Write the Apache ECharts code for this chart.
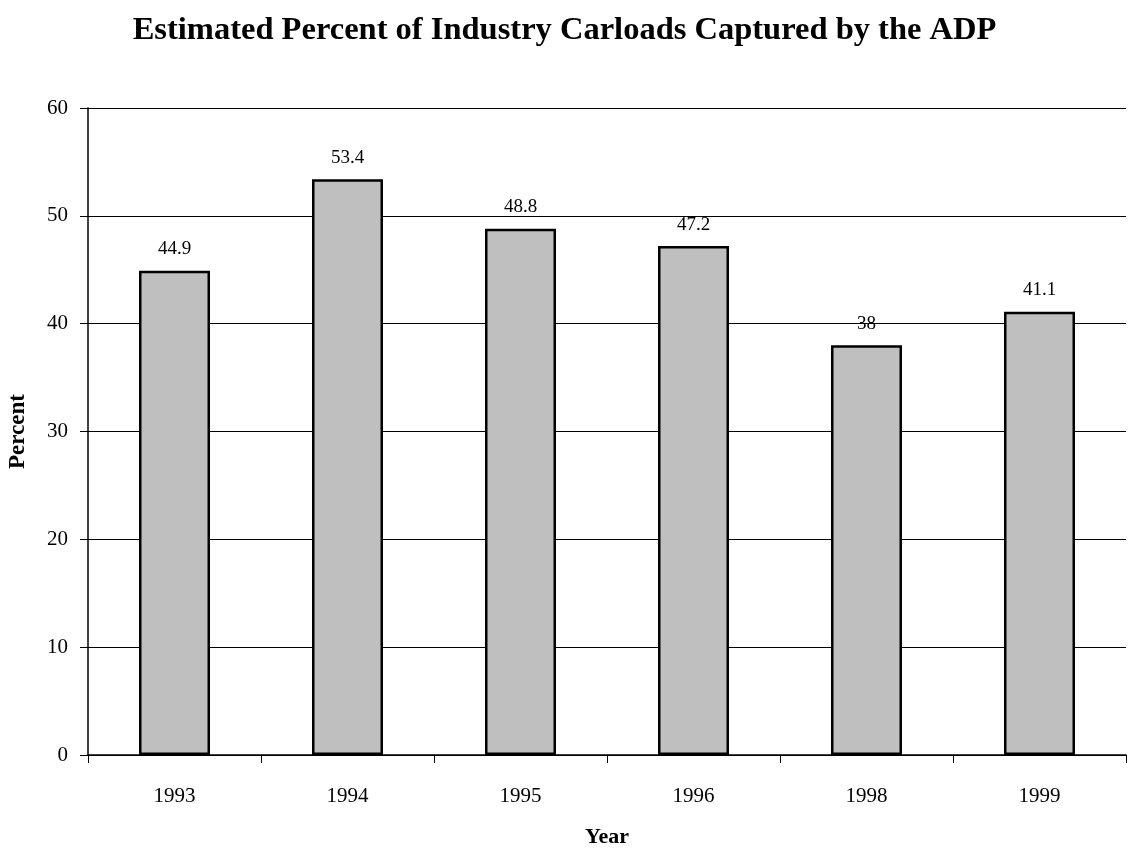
<!DOCTYPE html>
<html>
<head>
<meta charset="utf-8">
<script src="https://cdn.jsdelivr.net/npm/echarts@6/dist/echarts.min.js"></script>
<style>
  html, body { margin: 0; padding: 0; background: #fff; }
  #chart { width: 1129px; height: 849px; }
</style>
</head>
<body>
<div id="chart"></div>
<script>
const years = ['1993', '1994', '1995', '1996', '1998', '1999']
const percent = [44.9, 53.4, 48.8, 47.2, 38, 41.1]

const font = '"Liberation Serif", "Times New Roman", serif'
const chart = echarts.init(document.getElementById('chart'))

chart.setOption({
  backgroundColor: '#fff',
  animation: false,
  title: {
    text: 'Estimated Percent of Industry Carloads Captured by the ADP',
    left: 'center',
    top: 9,
    textStyle: { fontFamily: font, fontSize: 32.5, fontWeight: 'bold', color: '#000' },
  },
  grid: { left: 88, right: 3, top: 108, bottom: 94, outerBoundsMode: 'none' },
  xAxis: {
    type: 'category',
    data: years,
    name: 'Year',
    nameLocation: 'middle',
    nameGap: 71,
    nameTextStyle: { fontFamily: font, fontSize: 22, fontWeight: 'bold', color: '#000' },
    axisLine: { lineStyle: { color: '#000', width: 1.5 } },
    axisTick: { show: true, length: 8, lineStyle: { color: '#000' } },
    axisLabel: { fontFamily: font, fontSize: 21, color: '#000', margin: 31 },
  },
  yAxis: {
    type: 'value',
    min: 0,
    max: 60,
    interval: 10,
    name: 'Percent',
    nameLocation: 'middle',
    nameGap: 58,
    nameTextStyle: { fontFamily: font, fontSize: 23, fontWeight: 'bold', color: '#000' },
    axisLine: { show: true, lineStyle: { color: '#000', width: 1.5 } },
    axisTick: { show: true, length: 8, lineStyle: { color: '#000' } },
    axisLabel: { fontFamily: font, fontSize: 21, color: '#000', margin: 20 },
    splitLine: { lineStyle: { color: '#000', width: 1.2 } },
  },
  series: [
    {
      type: 'bar',
      data: percent,
      barWidth: 71,
      itemStyle: { color: '#bfbfbf', borderColor: '#000', borderWidth: 2.5 },
      label: {
        show: true,
        position: 'top',
        distance: 12,
        fontFamily: font,
        fontSize: 19,
        color: '#000',
      },
    },
  ],
})
</script>
</body>
</html>
